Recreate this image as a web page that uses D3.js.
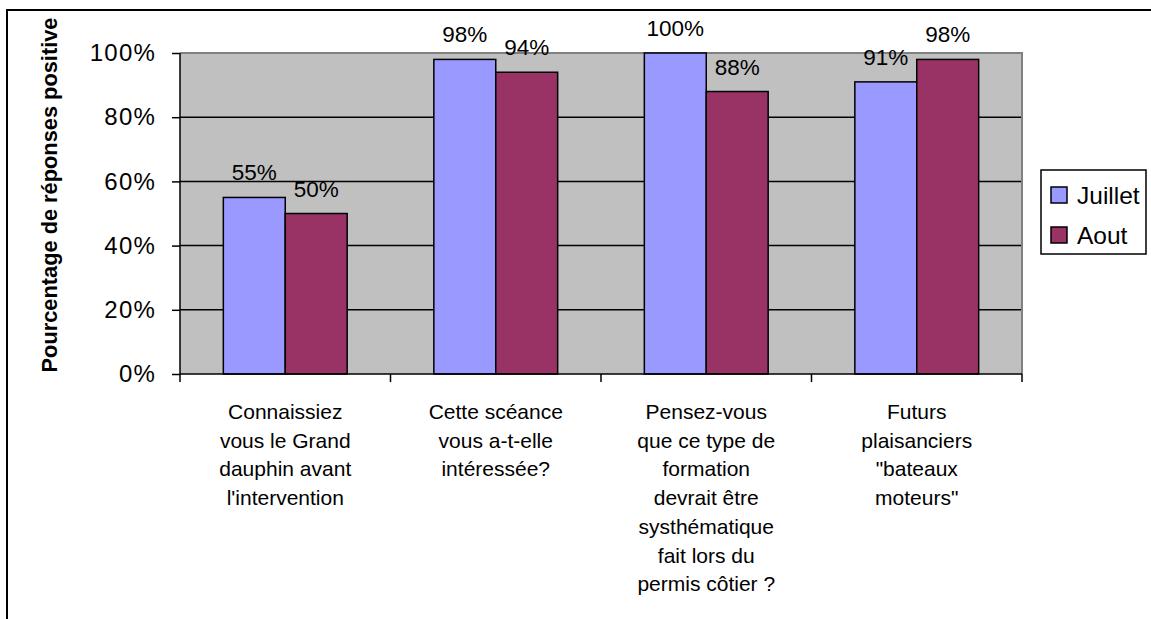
<!DOCTYPE html>
<html><head><meta charset="utf-8">
<script src="https://cdn.jsdelivr.net/npm/d3@7"></script>
<style>body{margin:0;background:#fff}svg{display:block;font-family:"Liberation Sans",Arial,sans-serif}</style>
</head><body>
<svg id="c" width="1151" height="619"></svg>
<script>
const categories = [
  ["Connaissiez","vous le Grand","dauphin avant","l'intervention"],
  ["Cette scéance","vous a-t-elle","intéressée?"],
  ["Pensez-vous","que ce type de","formation","devrait être","systhématique","fait lors du","permis côtier ?"],
  ["Futurs","plaisanciers","\"bateaux","moteurs\""]
];
const seriesNames = ["Juillet","Aout"];
const juillet = [0.55, 0.98, 1.00, 0.91];
const aout = [0.50, 0.94, 0.88, 0.98];
const yTicks = [0, 0.2, 0.4, 0.6, 0.8, 1.0];
const colors = ["#9999FF","#993366"];

const svg = d3.select("#c");
const X0=180, X1=1022, Y0=374, Y1=53;
svg.append("rect").attr("x",7).attr("y",10).attr("width",1200).attr("height",700)
  .attr("fill","none").attr("stroke","#000").attr("stroke-width",2);

const idx = categories.map((d,i)=>i);
const x = d3.scaleBand().domain(idx).range([X0,X1]).padding(0);
const xs = d3.scaleBand().domain([0,1]).range([0,x.bandwidth()]).paddingOuter(0.7).paddingInner(0);
const y = d3.scaleLinear().domain([0,1]).range([Y0,Y1]);

svg.append("rect").attr("x",X0).attr("y",Y1).attr("width",X1-X0).attr("height",Y0-Y1).attr("fill","#C0C0C0");
svg.append("g").selectAll("line").data(yTicks.filter(t=>t>0 && t<1)).join("line")
  .attr("x1",X0).attr("x2",X1).attr("y1",d=>y(d)).attr("y2",d=>y(d)).attr("stroke","#000").attr("stroke-width",1.5);
svg.append("path").attr("d",`M${X0},${Y1}H${X1}V${Y0}`).attr("fill","none").attr("stroke","#808080").attr("stroke-width",2);

const series = [juillet, aout];
series.forEach((vals,s)=>{
  svg.append("g").selectAll("rect").data(vals).join("rect")
    .attr("x",(d,i)=>x(i)+xs(s)).attr("width",xs.bandwidth())
    .attr("y",d=>y(d)).attr("height",d=>Y0-y(d))
    .attr("fill",colors[s]).attr("stroke","#000").attr("stroke-width",1.5);
  svg.append("g").selectAll("text").data(vals).join("text")
    .attr("x",(d,i)=>x(i)+xs(s)+xs.bandwidth()/2).attr("y",d=>y(d)-17)
    .attr("text-anchor","middle").attr("font-size",22.5).attr("fill","#000")
    .text(d=>Math.round(d*100)+"%");
});

const ya = d3.axisLeft(y).tickValues(yTicks).tickFormat(d=>Math.round(d*100)+"%").tickSize(8).tickPadding(16);
const yg = svg.append("g").attr("transform",`translate(${X0},0)`).call(ya);
yg.select(".domain").attr("stroke","#000").attr("stroke-width",1.5).attr("d",`M0,${Y1}V${Y0}`);
yg.selectAll(".tick line").attr("stroke","#000").attr("stroke-width",1.5);
yg.selectAll(".tick text").attr("font-size",24).attr("letter-spacing","1.2px").attr("fill","#000").attr("font-family","Liberation Sans, Arial, sans-serif");

const xb = d3.scaleLinear().domain([0,categories.length]).range([X0,X1]);
const xg = svg.append("g");
xg.append("line").attr("x1",X0).attr("x2",X1).attr("y1",Y0).attr("y2",Y0).attr("stroke","#000").attr("stroke-width",1.5);
xg.selectAll("line.t").data(d3.range(categories.length+1)).join("line").attr("class","t")
  .attr("x1",d=>xb(d)).attr("x2",d=>xb(d)).attr("y1",Y0).attr("y2",Y0+8).attr("stroke","#000").attr("stroke-width",1.5);
categories.forEach((lines,i)=>{
  const t = xg.append("text").attr("text-anchor","middle").attr("font-size",21).attr("fill","#000");
  lines.forEach((ln,k)=>t.append("tspan").attr("x",x(i)+x.bandwidth()/2).attr("y",419+k*28.7).text(ln));
});

svg.append("text").attr("transform",`translate(57,195) rotate(-90)`).attr("text-anchor","middle")
  .attr("font-size",21.8).attr("font-weight","bold").attr("fill","#000").text("Pourcentage de réponses positive");

const lg = svg.append("g");
lg.append("rect").attr("x",1041).attr("y",170).attr("width",105).attr("height",84).attr("fill","#fff").attr("stroke","#000").attr("stroke-width",1.5);
seriesNames.forEach((n,i)=>{
  lg.append("rect").attr("x",1051).attr("y",187+i*40).attr("width",16).attr("height",16).attr("fill",colors[i]).attr("stroke","#000").attr("stroke-width",1.5);
  lg.append("text").attr("x",1077).attr("y",204+i*40).attr("font-size",24.5).attr("fill","#000").text(n);
});
</script>
</body></html>
